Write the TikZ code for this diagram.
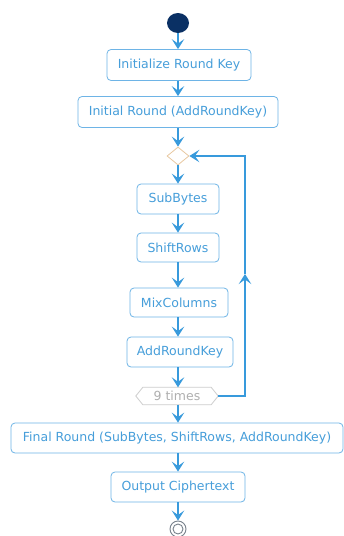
\documentclass[tikz,border=0pt]{standalone}
\usepackage{fontspec}
\setmainfont{DejaVu Sans}
\usetikzlibrary{arrows.meta,shapes.geometric}
\definecolor{flowblue}{RGB}{56,154,220}
\definecolor{boxblue}{RGB}{110,180,230}
\definecolor{txtblue}{RGB}{70,158,218}
\definecolor{navy}{RGB}{10,48,100}
\definecolor{tan}{RGB}{232,200,160}
\definecolor{hexgray}{RGB}{205,205,205}
\definecolor{txtgray}{RGB}{175,175,175}
\definecolor{endgray}{RGB}{120,130,140}
\tikzset{
  x=1pt,y=-1pt,
  act/.style={draw=boxblue,line width=0.8pt,rounded corners=4pt,fill=white,
    text=txtblue,font=\fontsize{12.5}{13}\selectfont,minimum height=30pt,inner sep=0pt},
  flow/.style={draw=flowblue,line width=2.4pt,-{Stealth[length=10pt,width=12.5pt,inset=4.5pt]}},
}
\begin{document}
\begin{tikzpicture}
\useasboundingbox (0,0) rectangle (344,536);
\fill[white] (0,0) rectangle (344,536);
\node[ellipse,fill=navy,minimum width=22pt,minimum height=20pt,inner sep=0pt] (start) at (178,23) {};
\node[act,minimum width=144pt,minimum height=31pt] (b1) at (179,65) {Initialize Round Key};
\node[act,minimum width=200pt,minimum height=31pt] (b2) at (178,112) {Initial Round (AddRoundKey)};
\node[diamond,draw=tan,line width=0.8pt,minimum width=22pt,minimum height=18pt,inner sep=0pt] (dia) at (178,156) {};
\node[act,minimum width=82pt] (sub) at (178,199) {SubBytes};
\node[act,minimum width=82pt,minimum height=29pt] (shift) at (178,247.5) {ShiftRows};
\node[act,minimum width=98pt,minimum height=29pt] (mix) at (179,302.5) {MixColumns};
\node[act,minimum width=106pt] (add) at (180,352) {AddRoundKey};
\node[minimum width=82pt,minimum height=17pt,inner sep=0pt,text=txtgray,font=\fontsize{12.5}{13}\selectfont] (times) at (177,396) {9 times};
\draw[hexgray,line width=0.8pt] (times.west) -- ([xshift=7pt]times.north west) -- ([xshift=-7pt]times.north east) -- (times.east) -- ([xshift=-7pt]times.south east) -- ([xshift=7pt]times.south west) -- cycle;
\node[act,minimum width=332pt] (final) at (177,438) {Final Round (SubBytes, ShiftRows, AddRoundKey)};
\node[act,minimum width=134pt] (out) at (178,487) {Output Ciphertext};
\node[circle,draw=endgray,line width=0.9pt,minimum size=16pt,inner sep=0pt,fill=white] (end) at (178,529) {};
\draw[endgray,line width=0.9pt] (end.center) circle (5pt);
\coordinate (lc) at (245,396);
\coordinate (lm) at (245,274);
\coordinate (lt) at (245,156);
\draw[flow] (start) -- (b1.north -| start);
\draw[flow] (b1.south -| start) -- (b2.north -| start);
\draw[flow] (b2.south -| start) -- (dia.north);
\draw[flow] (dia.south) -- (sub.north -| dia);
\draw[flow] (sub.south -| dia) -- (shift.north -| dia);
\draw[flow] (shift.south -| dia) -- (mix.north -| dia);
\draw[flow] (mix.south -| dia) -- (add.north -| dia);
\draw[flow] (add.south -| dia) -- (times.north -| dia);
\draw[flow] (times.south -| dia) -- (final.north -| dia);
\draw[flow] (final.south -| dia) -- (out.north -| dia);
\draw[flow] (out.south -| dia) -- (end.north);
\draw[flow] (times.east) -- (lc) -- (lm);
\draw[flow] (lm) -- (lt) -- (dia.east);
\end{tikzpicture}
\end{document}
